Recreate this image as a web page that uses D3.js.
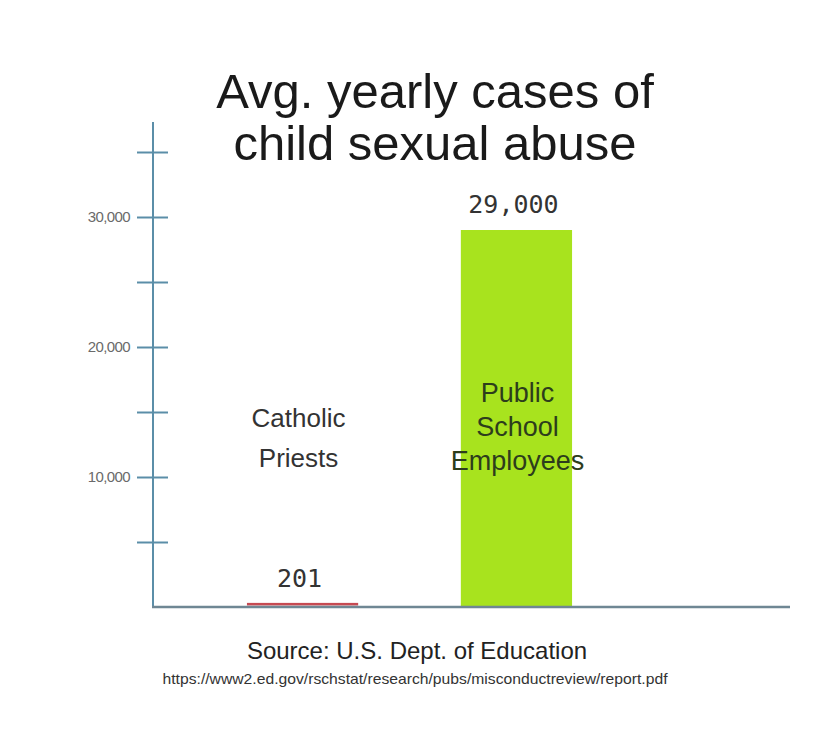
<!DOCTYPE html>
<html>
<head>
<meta charset="utf-8">
<script src="https://cdn.jsdelivr.net/npm/d3@7"></script>
<style>
  body { margin: 0; background: #fff; }
</style>
</head>
<body>
<svg id="chart"></svg>
<script>
// data
const categories = ['Catholic Priests', 'Public School Employees']
const values = [201, 29000]
const valueLabels = ['201', '29,000']
const barLabels = [['Catholic', 'Priests'], ['Public', 'School', 'Employees']]
const tickValues = [5000, 10000, 15000, 20000, 25000, 30000, 35000]
const labelledTicks = [10000, 20000, 30000]
const titleLines = ['Avg. yearly cases of', 'child sexual abuse']
const source = 'Source: U.S. Dept. of Education'
const sourceUrl = 'https://www2.ed.gov/rschstat/research/pubs/misconductreview/report.pdf'

const W = 834, H = 737
const svg = d3.select('#chart').attr('width', W).attr('height', H)
  .attr('font-family', 'Arial, "Liberation Sans", sans-serif')

// y axis: 0 sits on the baseline, the line runs a bit past the last tick
const yScale = d3.scaleLinear().domain([0, 35000]).range([607, 152])
const xScale = d3.scaleBand().domain(categories).range([140, 679]).paddingInner(0.48).paddingOuter(0.5)

const yAxis = d3.axisLeft(yScale)
  .tickValues(tickValues)
  .tickSize(16)
  .tickPadding(7)
  .tickFormat(d => labelledTicks.includes(d) ? d3.format(',')(d) : '')

const gy = svg.append('g').attr('transform', 'translate(153,0)').call(yAxis)
gy.select('.domain').remove()
gy.selectAll('.tick line').attr('x1', 15).attr('stroke', '#5b8ea8').attr('stroke-width', 2)
gy.selectAll('.tick text').attr('fill', '#6a6a6a').attr('font-size', 15)
  .attr('font-family', 'Arial, "Liberation Sans", sans-serif').attr('letter-spacing', -0.6)

// axis lines
gy.append('line').attr('x1', 0).attr('x2', 0)
  .attr('y1', yScale(37300)).attr('y2', yScale(0))
  .attr('stroke', '#5b8ea8').attr('stroke-width', 2)

// bars
const barColors = ['#c64a52', '#a8e31e']
svg.selectAll('rect.bar').data(categories).join('rect')
  .attr('class', 'bar')
  .attr('x', d => xScale(d))
  .attr('width', xScale.bandwidth())
  .attr('y', (d, i) => yScale(values[i]) - (i === 0 ? 1.5 : 0))
  .attr('height', (d, i) => yScale(0) - yScale(values[i]))
  .attr('fill', (d, i) => barColors[i])

svg.append('line').attr('x1', 152).attr('x2', 790)
  .attr('y1', yScale(0)).attr('y2', yScale(0))
  .attr('stroke', '#6f8794').attr('stroke-width', 2.5)

// value labels above bars
svg.selectAll('text.val').data(categories).join('text')
  .attr('class', 'val')
  .attr('x', d => xScale(d) + xScale.bandwidth() / 2 - 3)
  .attr('y', (d, i) => yScale(values[i]) - 17)
  .attr('text-anchor', 'middle')
  .attr('font-family', '"DejaVu Sans Mono", monospace')
  .attr('font-size', 25)
  .attr('fill', '#333')
  .text((d, i) => valueLabels[i])

// category labels
const labelY = [[427, 467], [402, 436, 470]]
const labelSize = [26, 27]
categories.forEach((c, i) => {
  svg.append('text')
    .attr('text-anchor', 'middle')
    .attr('font-size', labelSize[i])
    .attr('fill', i === 0 ? '#333' : '#2d3d1c')
    .selectAll('tspan').data(barLabels[i]).join('tspan')
    .attr('x', xScale(c) + xScale.bandwidth() / 2 - (i === 0 ? 4 : -1))
    .attr('y', (d, j) => labelY[i][j])
    .text(d => d)
})

// title
svg.append('text').attr('text-anchor', 'middle').attr('font-size', 49).attr('fill', '#1a1a1a')
  .selectAll('tspan').data(titleLines).join('tspan')
  .attr('x', 435).attr('y', (d, i) => 108 + i * 52)
  .text(d => d)

// source
svg.append('text').attr('x', 417).attr('y', 659).attr('text-anchor', 'middle')
  .attr('font-size', 24).attr('fill', '#222').text(source)
svg.append('text').attr('x', 415).attr('y', 684).attr('text-anchor', 'middle')
  .attr('font-size', 15).attr('fill', '#333')
  .attr('textLength', 505).attr('lengthAdjust', 'spacingAndGlyphs')
  .text(sourceUrl)
</script>
</body>
</html>
